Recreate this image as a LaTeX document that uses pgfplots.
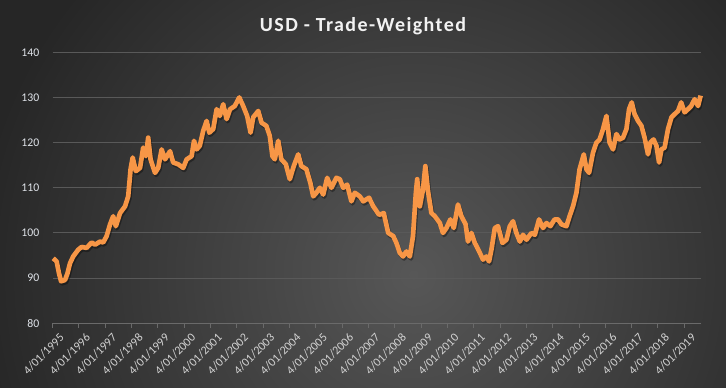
\documentclass[border=0pt]{standalone}
\usepackage{pgfplots}
\pgfplotsset{compat=1.18}
\usepackage{pgfplotstable}
\usepackage{fontspec}
\setmainfont{Carlito}
\newfontfamily\titlefont[LetterSpace=7]{Carlito}
\definecolor{bgin}{HTML}{575757}
\definecolor{bgout}{HTML}{262626}
\definecolor{gridc}{HTML}{595959}
\definecolor{axc}{HTML}{6A6A6A}
\definecolor{usdorange}{HTML}{F79646}
\definecolor{ylab}{HTML}{E0E4EA}
\definecolor{xlab}{HTML}{D2D2D2}
\pgfdeclareradialshading{bgshade}{\pgfpoint{0bp}{0bp}}{color(0bp)=(bgin); color(25bp)=(bgout); color(50bp)=(bgout)}

\pgfplotstableread{
x y
1995.02 94.4
1995.15 93.7
1995.24 91.1
1995.32 89.3
1995.47 89.6
1995.56 91.0
1995.66 93.3
1995.78 94.8
1995.97 96.3
1996.10 96.9
1996.29 96.7
1996.48 97.9
1996.61 97.4
1996.80 98.1
1996.92 97.9
1997.05 99.3
1997.18 101.9
1997.30 103.7
1997.40 101.5
1997.56 104.4
1997.75 105.9
1997.87 108.1
1997.96 114.1
1998.04 116.7
1998.16 113.7
1998.32 114.4
1998.44 118.9
1998.54 117.0
1998.63 121.1
1998.72 116.3
1998.89 113.3
1999.01 114.4
1999.14 118.5
1999.27 116.3
1999.46 118.1
1999.58 115.6
1999.77 115.2
1999.96 114.4
2000.09 116.3
2000.28 117.0
2000.37 120.4
2000.47 118.5
2000.59 119.3
2000.72 122.6
2000.85 124.8
2000.95 122.2
2001.10 123.0
2001.23 127.4
2001.35 125.9
2001.48 128.5
2001.61 125.2
2001.74 127.4
2001.92 128.1
2002.09 130.0
2002.24 128.1
2002.39 125.9
2002.52 122.2
2002.62 125.6
2002.81 127.0
2002.94 124.4
2003.12 123.7
2003.25 121.5
2003.35 117.0
2003.44 116.3
2003.57 120.4
2003.69 116.3
2003.86 115.2
2004.01 111.9
2004.16 114.8
2004.33 117.4
2004.45 114.8
2004.64 114.1
2004.79 111.1
2004.90 108.1
2005.02 108.9
2005.15 110.0
2005.28 108.5
2005.43 112.2
2005.59 110.0
2005.78 112.2
2005.91 111.9
2006.04 110.0
2006.19 110.7
2006.35 107.0
2006.48 108.9
2006.67 108.1
2006.80 107.0
2007.02 107.8
2007.18 105.9
2007.40 104.0
2007.58 104.4
2007.75 100.0
2007.94 99.3
2008.06 97.8
2008.19 95.6
2008.31 94.8
2008.44 95.9
2008.57 94.8
2008.69 99.3
2008.80 108.9
2008.85 111.9
2008.95 105.9
2009.07 109.6
2009.16 114.8
2009.26 109.3
2009.39 104.4
2009.52 103.7
2009.71 102.2
2009.83 100.0
2009.96 101.1
2010.11 103.0
2010.24 101.1
2010.40 106.3
2010.53 103.7
2010.69 101.9
2010.78 98.1
2010.91 100.0
2011.04 97.8
2011.23 95.6
2011.35 94.1
2011.48 94.8
2011.58 93.7
2011.67 96.3
2011.80 101.1
2011.92 101.5
2012.09 97.8
2012.24 98.5
2012.37 101.5
2012.49 102.6
2012.62 100.0
2012.75 98.1
2012.87 99.6
2013.00 98.5
2013.19 100.0
2013.32 99.6
2013.48 103.0
2013.63 101.1
2013.76 102.2
2013.91 101.5
2014.07 103.0
2014.20 103.0
2014.33 101.9
2014.52 101.5
2014.64 103.7
2014.77 105.9
2014.90 108.9
2015.02 114.1
2015.18 117.4
2015.28 114.1
2015.38 113.3
2015.53 117.8
2015.66 120.0
2015.78 120.7
2015.91 123.0
2016.04 125.9
2016.16 120.0
2016.29 118.5
2016.42 121.9
2016.54 120.7
2016.67 121.1
2016.80 123.0
2016.90 127.4
2017.00 128.9
2017.11 126.3
2017.24 124.8
2017.37 123.7
2017.49 121.1
2017.62 117.4
2017.71 120.0
2017.83 120.7
2017.94 119.3
2018.04 115.6
2018.13 118.5
2018.25 118.9
2018.38 123.0
2018.51 125.6
2018.63 126.3
2018.76 127.0
2018.88 128.9
2019.01 126.7
2019.14 127.4
2019.26 128.1
2019.39 129.6
2019.52 128.1
2019.62 130.4
}\usd

\begin{document}
\begin{tikzpicture}
\path[use as bounding box] (0,0) rectangle (544.5pt,291pt);
\fill[bgout] (0,0) rectangle (544.5pt,291pt);
\begin{scope}
\clip (0,0) rectangle (544.5pt,291pt);
\shade[shading=bgshade] (310pt,85pt) circle (330pt);
\end{scope}
\node[text=white!95!black, font=\titlefont\fontsize{15}{18}\selectfont\bfseries] at (272.25pt,271.5pt) {USD - Trade-Weighted};
\begin{axis}[
  at={(39.5pt,48.5pt)}, anchor=south west,
  scale only axis, width=486.2pt, height=203.3pt,
  xmin=1995, xmax=2019.63, ymin=80, ymax=140,
  ytick={80,90,...,140},
  xtick={1995,...,2019},
  xticklabels={4/01/1995,4/01/1996,4/01/1997,4/01/1998,4/01/1999,4/01/2000,4/01/2001,4/01/2002,4/01/2003,4/01/2004,4/01/2005,4/01/2006,4/01/2007,4/01/2008,4/01/2009,4/01/2010,4/01/2011,4/01/2012,4/01/2013,4/01/2014,4/01/2015,4/01/2016,4/01/2017,4/01/2018,4/01/2019},
  axis x line*=bottom, axis y line*=left,
  x axis line style={color=axc, line width=0.75pt},
  y axis line style={draw=none},
  tick align=outside, major tick length=3.5pt,
  xtick style={color=axc, line width=0.75pt},
  ytick style={draw=none},
  ymajorgrids, grid style={color=gridc, line width=0.75pt},
  /pgf/number format/assume math mode=true,
  yticklabel style={font=\fontsize{8.8}{10}\selectfont, text=ylab, xshift=-3pt},
  xticklabel style={font=\fontsize{9}{10}\selectfont, text=xlab, rotate=45, anchor=north east, inner sep=1pt, xshift=2pt, yshift=-4.5pt},
  clip=false,
]
\addplot[black, opacity=0.35, line width=3.5pt, line join=round, xshift=0.8pt, yshift=-1.5pt] table[x=x,y=y] {\usd};
\addplot[usdorange, line width=3.5pt, line join=round] table[x=x,y=y] {\usd};
\end{axis}
\end{tikzpicture}
\end{document}
